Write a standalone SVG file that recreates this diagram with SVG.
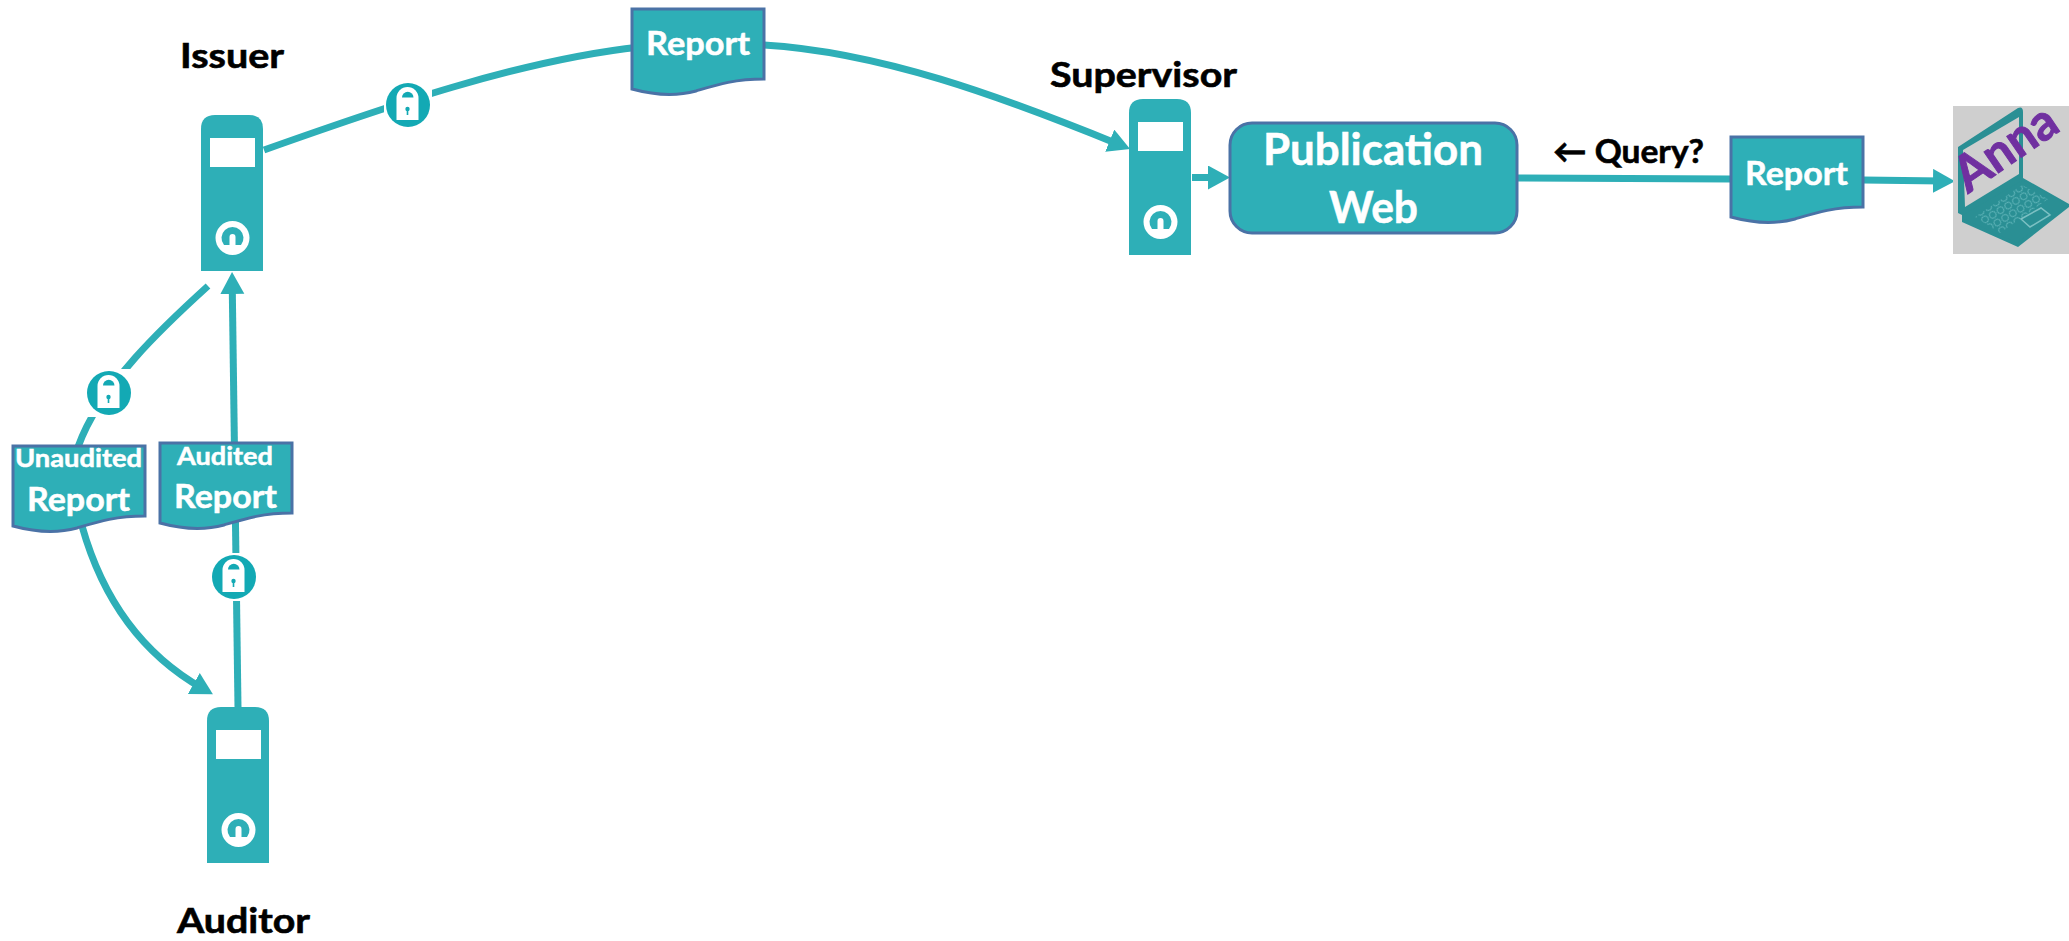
<svg xmlns="http://www.w3.org/2000/svg" width="2069" height="941" viewBox="0 0 2069 941">
<style>
.lbl{font-family:Lato,"Open Sans","DejaVu Sans",sans-serif;font-weight:700;fill:#000;stroke:#000;stroke-width:.6;font-size:35px}
.wt{font-family:Lato,"Open Sans","DejaVu Sans",sans-serif;font-weight:700;fill:#fff;stroke:#fff;stroke-width:.5}
.con{fill:none;stroke:#2eafb7;stroke-width:7}
.teal{fill:#2eafb7}
.docshape{fill:#2eafb7;stroke:#4a72a6;stroke-width:3}
.white{fill:#fff}
</style>
<defs>
<marker id="arrow" markerUnits="userSpaceOnUse" markerWidth="24" markerHeight="26" refX="10" refY="12" orient="auto"><path d="M0 0L22 12L0 24Z" fill="#2eafb7"/></marker>
<path id="doc" d="M0 0H132V70C102 70 84 76 64 82C42 88 22 86 0 80Z"/>
<g id="server">
<path class="teal" d="M0 156V14Q0 0 14 0H48Q62 0 62 14V156Z"/>
<rect class="white" x="9" y="23" width="45" height="29"/>
<circle cx="31.500" cy="123" r="17" class="white"/>
<path class="teal" transform="translate(31.500,123)" d="M-8.500 7A11 11 0 1 1 8.500 7H3V-1A3 3 0 0 0 -3 -1V7Z"/>
</g>
<g id="lock">
<rect x="-24" y="-24" width="48" height="48" fill="#fff"/>
<circle r="22" fill="#13a9b4"/>
<path class="white" d="M-11.500 15V-7A11 11 0 0 1 10.500 -7V15Z"/>
<path fill="#13a9b4" d="M-6 -7.500A5.500 5.500 0 0 1 5.500 -7.500Z"/>
<circle cx="-0.500" cy="4" r="2.200" fill="#13a9b4"/>
<rect x="-1.300" y="4" width="1.600" height="6" fill="#13a9b4"/>
</g>
<pattern id="keys" width="9" height="9" patternUnits="userSpaceOnUse" patternTransform="rotate(-31)"><circle cx="4.500" cy="4.500" r="3.400" fill="#2a8f94" stroke="#5fb4b8" stroke-width="1"/></pattern>
</defs>

<g id="connectors">
<path class="con" d="M264 150C385 107 520 60 640 47"/>
<path class="con" d="M764 45C880 52 1000 96 1119 144.500" marker-end="url(#arrow)"/>
<path class="con" d="M208 286C165 325 100 385 78 447"/>
<path class="con" d="M82 526C100 590 135 650 202.500 688.400" marker-end="url(#arrow)"/>
<path class="con" d="M238 707L232.200 284" marker-end="url(#arrow)"/>
<path class="con" d="M1192 177.500H1218" marker-end="url(#arrow)"/>
<path class="con" d="M1517 178L1731 179"/>
<path class="con" d="M1863 180L1943 181" marker-end="url(#arrow)"/>
</g>

<g id="issuer"><use href="#server" x="201" y="115"/><text class="lbl" x="180" y="68" textLength="104" lengthAdjust="spacingAndGlyphs">Issuer</text></g>
<g id="supervisor"><use href="#server" x="1129" y="99"/><text class="lbl" x="1050" y="87" textLength="187" lengthAdjust="spacingAndGlyphs">Supervisor</text></g>
<g id="auditor"><use href="#server" x="207" y="707"/><text class="lbl" x="177" y="933" textLength="133" lengthAdjust="spacingAndGlyphs">Auditor</text></g>

<g id="lock-top"><use href="#lock" x="408" y="105"/></g>
<g id="lock-left"><use href="#lock" x="109" y="393"/></g>
<g id="lock-bottom"><use href="#lock" x="234" y="577"/></g>

<g id="report-top"><use href="#doc" x="632" y="9" class="docshape"/><text class="wt" x="646" y="55" font-size="32" textLength="104" lengthAdjust="spacingAndGlyphs">Report</text></g>
<g id="report-unaudited"><use href="#doc" x="13" y="446" class="docshape"/><text class="wt" x="15" y="467" font-size="25" textLength="127" lengthAdjust="spacingAndGlyphs">Unaudited</text><text class="wt" x="27" y="511" font-size="32" textLength="103" lengthAdjust="spacingAndGlyphs">Report</text></g>
<g id="report-audited"><use href="#doc" x="160" y="443" class="docshape"/><text class="wt" x="177" y="465" font-size="25" textLength="96" lengthAdjust="spacingAndGlyphs">Audited</text><text class="wt" x="174" y="508" font-size="32" textLength="103" lengthAdjust="spacingAndGlyphs">Report</text></g>
<g id="report-right"><use href="#doc" x="1731" y="137" class="docshape"/><text class="wt" x="1745" y="185" font-size="32" textLength="103" lengthAdjust="spacingAndGlyphs">Report</text></g>

<g id="publication-web">
<rect x="1230" y="123" width="287" height="110" rx="22" class="docshape"/>
<text class="wt" x="1263" y="165" font-size="44" textLength="220" lengthAdjust="spacingAndGlyphs">Publication</text>
<text class="wt" x="1329" y="223" font-size="44" textLength="89" lengthAdjust="spacingAndGlyphs">Web</text>
</g>

<text id="query" class="lbl" x="1553" y="163" style="font-size:33px" textLength="151" lengthAdjust="spacingAndGlyphs">← Query?</text>

<g id="anna">
<rect x="1953" y="106" width="116" height="148" fill="#cfcfcf"/>
<path d="M1958 147L2018 108Q2023 106 2023 112V178L2069 204V207L2018 247L1962 222V215L1958 213Z" fill="#2a8f94"/>
<path d="M1963 150L2019 117V174L1965 207Z" fill="#cfcfcf"/>
<path d="M1963 215L2023 180L2068 205L2017 243L1964 219Z" fill="#2a8f94"/>
<path d="M1975 217L2022 185L2048 199L2000 233Z" fill="url(#keys)"/>
<path d="M2021 219L2041 208L2050 215L2030 227Z" fill="none" stroke="#7cc0c3" stroke-width="1.500"/>
<text x="1968" y="194" transform="rotate(-34.400 1968 194)" font-family="Lato,'Open Sans',sans-serif" font-weight="700" font-size="50" fill="#7030a0" stroke="#7030a0" stroke-width="1" textLength="114" lengthAdjust="spacingAndGlyphs">Anna</text>
</g>
</svg>
